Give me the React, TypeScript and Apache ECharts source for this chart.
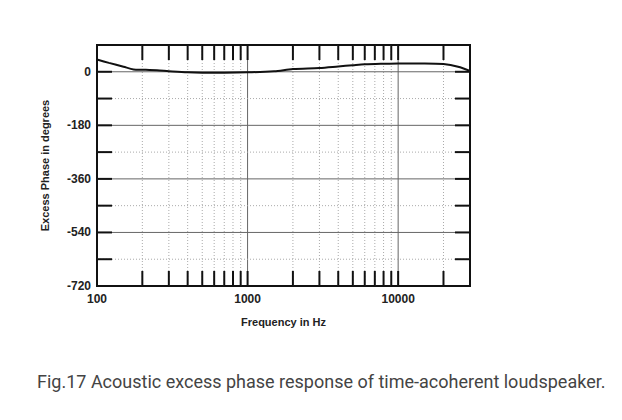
import React, { useEffect, useRef } from "react";
import * as echarts from "echarts";

const freqs = [100, 120, 150, 175, 200, 250, 300, 400, 500, 700, 1000, 1500, 2000, 3000, 4000, 5000, 6000, 8000, 10000, 15000, 20000, 25000, 30000];
const phases = [41, 30, 17, 8, 7, 5, 2, -2, -3, -3, -2, 2, 9, 13, 18, 22, 25, 27, 28, 28, 26, 17, 3];

const xMinorLines = [200, 300, 400, 500, 600, 700, 800, 900, 2000, 3000, 4000, 5000, 6000, 7000, 8000, 9000, 20000];
const xMajorLines = [1000, 10000];
const yMajorLines = [0, -180, -360, -540];
const yMinorLines = [-90, -270, -450, -630];
const xTickLabels = [100, 1000, 10000];
const yTickLabels = [0, -180, -360, -540, -720];

const X_MIN = 100;
const X_MAX = 30000;
const Y_MIN = -720;
const Y_MAX = 90;

export default function App() {
  const ref = useRef<HTMLDivElement>(null);
  useEffect(() => {
    if (!ref.current) return;
    const chart = echarts.init(ref.current, null, { renderer: "svg" });
    const gridItems: any[] = [];
    xMinorLines.forEach((v) => gridItems.push({ value: [v, 0], kind: "xminor" }));
    xMajorLines.forEach((v) => gridItems.push({ value: [v, 0], kind: "xmajor" }));
    yMinorLines.forEach((v) => gridItems.push({ value: [X_MIN, v], kind: "yminor" }));
    yMajorLines.forEach((v) => gridItems.push({ value: [X_MIN, v], kind: "ymajor" }));
    const kinds = gridItems.map((g) => g.kind);
    const labelFont = { fontFamily: "Liberation Sans, Arial, sans-serif", fontWeight: "bold" as const, fontSize: 12, color: "#222" };
    chart.setOption({
      animation: false,
      grid: { left: 89, top: 37, right: 152, bottom: 134, show: true, borderColor: "#111", borderWidth: 2, backgroundColor: "#fff" },
      xAxis: {
        type: "log",
        logBase: 10,
        min: X_MIN,
        max: X_MAX,
        name: "Frequency in Hz",
        nameLocation: "middle",
        nameGap: 30,
        nameTextStyle: { ...labelFont, fontSize: 11 },
        axisLine: { show: false },
        axisTick: { show: false },
        splitLine: { show: false },
        axisLabel: {
          ...labelFont,
          margin: 7,
          showMaxLabel: false,
          formatter: (v: number) => (xTickLabels.some((t) => Math.abs(t - v) < 1e-6 * t) ? String(Math.round(v)) : ""),
        },
      },
      yAxis: {
        type: "value",
        min: Y_MIN,
        max: Y_MAX,
        interval: 90,
        name: "Excess Phase in degrees",
        nameLocation: "middle",
        nameGap: 47,
        nameTextStyle: { ...labelFont, fontSize: 11 },
        axisLine: { show: false },
        axisTick: { show: false },
        splitLine: { show: false },
        axisLabel: {
          ...labelFont,
          margin: 6,
          formatter: (v: number) => (yTickLabels.includes(v) ? String(v) : ""),
        },
      },
      graphic: [
        {
          type: "text",
          left: 29,
          top: 364,
          style: {
            text: "Fig.17 Acoustic excess phase response of time-acoherent loudspeaker.",
            font: "18px Roboto, sans-serif",
            fill: "#444",
          },
        },
      ],
      series: [
        {
          type: "custom",
          z: 1,
          silent: true,
          data: gridItems.map((g) => g.value),
          renderItem: (params: any, api: any) => {
            const kind = kinds[params.dataIndex];
            const x = api.value(0);
            const y = api.value(1);
            const children: any[] = [];
            if (kind === "xminor" || kind === "xmajor") {
              const top = api.coord([x, Y_MAX]);
              const bot = api.coord([x, Y_MIN]);
              children.push({
                type: "line",
                shape: { x1: top[0], y1: top[1], x2: bot[0], y2: bot[1] },
                style: kind === "xmajor" ? { stroke: "#666", lineWidth: 1 } : { stroke: "#aaa", lineWidth: 1, lineDash: [1, 2] },
              });
              children.push({ type: "line", shape: { x1: top[0], y1: top[1], x2: top[0], y2: top[1] + 15 }, style: { stroke: "#111", lineWidth: 2 } });
              children.push({ type: "line", shape: { x1: bot[0], y1: bot[1], x2: bot[0], y2: bot[1] - 15 }, style: { stroke: "#111", lineWidth: 2 } });
            } else {
              const l = api.coord([X_MIN, y]);
              const r = api.coord([X_MAX, y]);
              children.push({
                type: "line",
                shape: { x1: l[0], y1: l[1], x2: r[0], y2: r[1] },
                style: kind === "ymajor" ? { stroke: "#666", lineWidth: 1 } : { stroke: "#aaa", lineWidth: 1, lineDash: [1, 2] },
              });
              children.push({ type: "line", shape: { x1: l[0], y1: l[1], x2: l[0] + 15, y2: l[1] }, style: { stroke: "#111", lineWidth: 2 } });
              children.push({ type: "line", shape: { x1: r[0], y1: r[1], x2: r[0] - 15, y2: r[1] }, style: { stroke: "#111", lineWidth: 2 } });
            }
            return { type: "group", children };
          },
        },
        {
          type: "line",
          z: 3,
          data: freqs.map((f, i) => [f, phases[i]]),
          showSymbol: false,
          smooth: 0.3,
          lineStyle: { color: "#111", width: 2 },
        },
      ],
    });
    return () => chart.dispose();
  }, []);
  return <div ref={ref} style={{ width: 614, height: 412 }} />;
}
